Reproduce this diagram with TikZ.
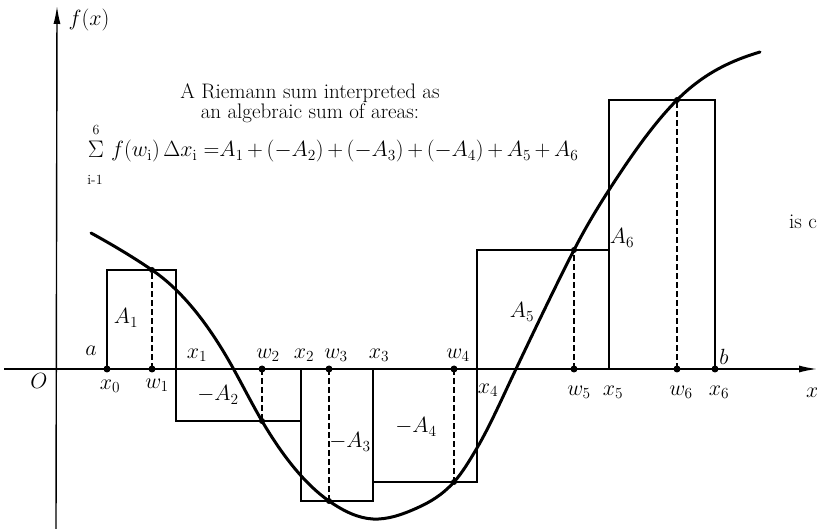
\RequirePackage{fix-cm}
\documentclass[tikz,border=0pt]{standalone}
\usetikzlibrary{arrows.meta}
\begin{document}
\begin{tikzpicture}[x=1pt,y=-1pt,
  every node/.style={font=\fontsize{22}{22}\selectfont, inner sep=0pt},
  axisline/.style={line width=1.4pt},
  box/.style={line width=1.2pt},
  curveline/.style={line width=3pt},
  dashline/.style={line width=1.2pt, dash pattern=on 6pt off 3pt},
  dot/.style={circle, fill=black, minimum size=7pt, inner sep=0pt},
  cdot/.style={circle, fill=black, minimum size=6pt, inner sep=0pt}]
\fill[white] (0,0) rectangle (817,529);
\useasboundingbox (0,0) rectangle (817,529);

% axes
\coordinate (yb) at (56,529);
\coordinate (yt) at (57,6);
\coordinate (xl) at (4,369);
\coordinate (xr) at (817,369);
\draw[axisline,-{Latex[length=18pt,width=7pt]}] (yb) -- (yt);
\draw[axisline,-{Latex[length=18pt,width=7pt]}] (xl) -- (xr);

% partition points on the axis
\coordinate (X0) at (107,369);
\coordinate (X1) at (176,369);
\coordinate (X2) at (301,369);
\coordinate (X3) at (373,369);
\coordinate (X4) at (477,369);
\coordinate (X5) at (609,369);
\coordinate (X6) at (715,369);
\coordinate (W1) at (152,369);
\coordinate (W2) at (262,369);
\coordinate (W3) at (329,369);
\coordinate (W4) at (454,369);
\coordinate (W5) at (574,369);
\coordinate (W6) at (677,369);

% function values
\coordinate (F1) at (152,270);
\coordinate (F2) at (262,421);
\coordinate (F3) at (329,501);
\coordinate (F4) at (454,482);
\coordinate (F5) at (574,250);
\coordinate (F6) at (677,100);

% rectangles
\draw[box] (X0) rectangle (176,270);
\draw[box] (X1) rectangle (301,421);
\draw[box] (X2) rectangle (373,501);
\draw[box] (X3) rectangle (477,482);
\draw[box] (X4) rectangle (609,250);
\draw[box] (X5) rectangle (715,100);

% dashed ordinates
\foreach \i in {1,...,6} {
  \draw[dashline] (W\i) -- (F\i);
}

% the curve (piecewise Hermite cubics)
\draw[curveline, line cap=round]
  (91,233) .. controls (111.33,244.18) and (131.67,256.17) .. (F1)
  .. controls (179,288.36) and (206,319.4) .. (233,368)
  .. controls (242.67,385.4) and (252.33,404.56) .. (F2)
  .. controls (284.33,458.97) and (306.67,485.37) .. (F3)
  .. controls (343.67,511.27) and (358.33,518.27) .. (373,519)
  .. controls (387.67,519.73) and (402.33,514.6) .. (417,508)
  .. controls (429.33,502.45) and (441.67,495.57) .. (F4)
  .. controls (461.67,473.56) and (469.33,461.04) .. (477,448)
  .. controls (490,425.9) and (503,396.3) .. (516,369)
  .. controls (535.33,328.4) and (554.67,287.7) .. (F5)
  .. controls (585.67,227.25) and (597.33,208.08) .. (609,190)
  .. controls (631.67,154.86) and (654.33,122.67) .. (F6)
  .. controls (704.67,72.33) and (732.33,60.3) .. (760,52);

% dots
\node[dot] (dx0) at (X0) {};
\node[dot] (dw1) at (W1) {};
\node[dot] (dw2) at (W2) {};
\node[dot] (dw3) at (W3) {};
\node[dot] (dw4) at (W4) {};
\node[dot] (dw5) at (W5) {};
\node[dot] (dw6) at (W6) {};
\node[dot] (dx6) at (X6) {};
\foreach \i in {1,...,6} {
  \node[cdot] (df\i) at (F\i) {};
}

% axis labels
\node (lfx) at (89,20) {$f(x)$};
\node (lO) at (39,381) {$O$};
\node (la) at (91,351) {$a$};
\node (lb) at (724,357) {$b$};
\node (lx) [anchor=west] at (806,393) {$x$};

\node (lx0) at (110,386) {$x_0$};
\node (lw1) at (157,385) {$w_1$};
\node (lx1) at (197,355) {$x_1$};
\node (lw2) at (268,355) {$w_2$};
\node (lx2) at (304,355) {$x_2$};
\node (lw3) at (336,355) {$w_3$};
\node (lx3) at (379,355) {$x_3$};
\node (lw4) at (458,355) {$w_4$};
\node (lx4) at (488,390) {$x_4$};
\node (lw5) at (579,392) {$w_5$};
\node (lx5) at (613,392) {$x_5$};
\node (lw6) at (681,392) {$w_6$};
\node (lx6) at (719,392) {$x_6$};

% area labels
\node (lA1) at (126,318) {$A_1$};
\node (lA2) at (218,395) {$-A_2$};
\node (lA3) at (350,442) {$-A_3$};
\node (lA4) at (416,427) {$-A_4$};
\node (lA5) at (522,312) {$A_5$};
\node (lA6) at (622,238) {$A_6$};

% caption text
\node (title) [align=center, font=\fontsize{21}{19.5}\selectfont] at (310,103)
  {A Riemann sum interpreted as\\an algebraic sum of areas:};

% formula
\node (sig) [font=\fontsize{24}{24}\selectfont] at (96,149) {$\Sigma$};
\node (sigup) [font=\fontsize{14}{14}\selectfont] at (96,130) {6};
\node (siglow) [font=\fontsize{14}{14}\selectfont] at (95,180) {i-1};
\node (formula) [anchor=base west, font=\fontsize{22}{22}\selectfont] at (111,157)
  {$f(w_{\mathrm{i}})\,\Delta x_{\mathrm{i}}\;{=}A_1\,{+}\,({-}A_2)\,{+}\,({-}A_3)\,{+}\,({-}A_4)\,{+}\,A_5\,{+}\,A_6$};

% cut-off text at right
\node (isc) [anchor=west, font=\fontsize{21}{21}\selectfont] at (789,222) {is c};
\end{tikzpicture}
\end{document}
